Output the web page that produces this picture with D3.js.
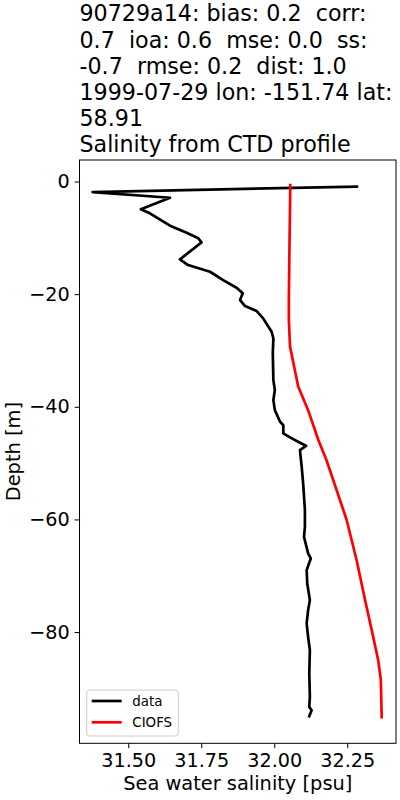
<!DOCTYPE html>
<html>
<head>
<meta charset="utf-8">
<script src="https://cdn.jsdelivr.net/npm/d3@7"></script>
<style>
  html, body { margin: 0; padding: 0; background: #fff; }
  svg { display: block; font-family: "DejaVu Sans", sans-serif; }
  text { white-space: pre; }
</style>
</head>
<body>
<svg id="chart" width="400" height="800"></svg>
<script>
// ---- data ----
const titleLines = [
  "90729a14: bias: 0.2  corr:",
  "0.7  ioa: 0.6  mse: 0.0  ss:",
  "-0.7  rmse: 0.2  dist: 1.0",
  "1999-07-29 lon: -151.74 lat:",
  "58.91",
  "Salinity from CTD profile"
];
const xLabel = "Sea water salinity [psu]";
const yLabel = "Depth [m]";
const seriesNames = ["data", "CIOFS"];
const seriesColors = ["#000000", "#ff0000"];

const dataSalinity = [32.283, 31.378, 31.643, 31.543, 31.574, 31.643, 31.700, 31.740, 31.751, 31.677,
  31.705, 31.780, 31.825, 31.871, 31.892, 31.883, 31.900, 31.940, 31.962, 31.991,
  31.997, 31.995, 31.997, 32.002, 31.997, 32.002, 32.020, 32.031, 32.031, 32.054,
  32.088, 32.109, 32.088, 32.094, 32.099, 32.105, 32.105, 32.102, 32.116, 32.125,
  32.111, 32.113, 32.122, 32.116, 32.111, 32.116, 32.122, 32.120, 32.122, 32.120,
  32.128, 32.120];
const dataDepth = [-0.89, -1.87, -2.88, -4.94, -5.65, -7.85, -9.09, -10.09, -10.80, -13.82,
  -14.83, -16.02, -17.50, -18.86, -19.86, -21.05, -22.11, -23.0, -24.30, -26.68,
  -27.85, -30.51, -35.26, -37.03, -38.81, -40.59, -42.66, -43.25, -44.72, -45.44,
  -46.39, -46.93, -47.69, -50.66, -53.61, -58.35, -61.31, -63.09, -66.04, -66.93,
  -69.0, -71.37, -74.33, -76.11, -78.47, -80.85, -83.21, -87.35, -91.51, -93.29,
  -93.87, -94.94];

const modelSalinity = [32.055, 32.052, 32.050, 32.050, 32.054, 32.082, 32.116, 32.151, 32.179, 32.202,
  32.248, 32.282, 32.311, 32.334, 32.356, 32.365, 32.368];
const modelDepth = [-0.62, -12.2, -21.0, -24.6, -29.3, -36.4, -40.6, -45.9, -49.5, -53.0,
  -60.1, -67.2, -74.3, -79.7, -85.0, -88.5, -95.1];

const xTicks = [31.50, 31.75, 32.00, 32.25];
const yTicks = [0, -20, -40, -60, -80];
const xDomain = [31.333, 32.417];
const yDomain = [-99.75, 3.82];

// ---- layout ----
const svg = d3.select("#chart");
const L = 79.5, R = 396, T = 160, B = 743.3;

const x = d3.scaleLinear().domain(xDomain).range([L, R]);
const y = d3.scaleLinear().domain(yDomain).range([B, T]);

const fmtX = d => d.toFixed(2);
const fmtY = d => (d < 0 ? "\u2212" + Math.abs(d) : String(d));

// axes
const xAxis = d3.axisBottom(x).tickValues(xTicks).tickFormat(fmtX).tickSizeInner(4.9).tickSizeOuter(0).tickPadding(4.9);
const yAxis = d3.axisLeft(y).tickValues(yTicks).tickFormat(fmtY).tickSizeInner(4.9).tickSizeOuter(0).tickPadding(4.9);

const gx = svg.append("g").attr("transform", `translate(0,${B})`).call(xAxis);
const gy = svg.append("g").attr("transform", `translate(${L},0)`).call(yAxis);
[gx, gy].forEach(g => {
  g.select(".domain").remove();
  g.selectAll(".tick line").attr("stroke", "#000").attr("stroke-width", 1);
  g.selectAll(".tick text").attr("fill", "#000").attr("font-size", 19.2).attr("font-family", "DejaVu Sans");
});

// lines
svg.append("clipPath").attr("id", "clip").append("rect")
  .attr("x", L).attr("y", T).attr("width", R - L).attr("height", B - T);

const lineGen = d3.line().x(d => x(d[0])).y(d => y(d[1]));
const dataPts = dataSalinity.map((s, i) => [s, dataDepth[i]]);
const modelPts = modelSalinity.map((s, i) => [s, modelDepth[i]]);

const plot = svg.append("g").attr("clip-path", "url(#clip)");
plot.append("path").datum(dataPts).attr("d", lineGen)
  .attr("fill", "none").attr("stroke", seriesColors[0]).attr("stroke-width", 2.7)
  .attr("stroke-linejoin", "round").attr("stroke-linecap", "square");
plot.append("path").datum(modelPts).attr("d", lineGen)
  .attr("fill", "none").attr("stroke", seriesColors[1]).attr("stroke-width", 2.7)
  .attr("stroke-linejoin", "round").attr("stroke-linecap", "square");

// frame
svg.append("rect").attr("x", L).attr("y", T).attr("width", R - L).attr("height", B - T)
  .attr("fill", "none").attr("stroke", "#000").attr("stroke-width", 1);

// title
const titleG = svg.append("g");
const lastBase = 152.3, lineH = 26.2;
titleLines.forEach((t, i) => {
  titleG.append("text")
    .attr("x", L)
    .attr("y", lastBase - (titleLines.length - 1 - i) * lineH)
    .attr("font-size", 22.2)
    .attr("fill", "#000")
    .attr("xml:space", "preserve")
    .text(t);
});

// axis labels
svg.append("text").attr("x", (L + R) / 2).attr("y", 790)
  .attr("text-anchor", "middle").attr("font-size", 19.4).attr("fill", "#000").text(xLabel);
svg.append("text").attr("transform", `translate(20,${(T + B) / 2}) rotate(-90)`)
  .attr("text-anchor", "middle").attr("font-size", 19.4).attr("fill", "#000").text(yLabel);

// legend
const lg = svg.append("g");
lg.append("rect").attr("x", 86.7).attr("y", 690).attr("width", 91.6).attr("height", 46)
  .attr("rx", 3).attr("fill", "#fff").attr("fill-opacity", 0.8)
  .attr("stroke", "#cccccc").attr("stroke-width", 1);
seriesNames.forEach((n, i) => {
  const yy = 701 + i * 21.3;
  lg.append("line").attr("x1", 91.7).attr("x2", 121.7).attr("y1", yy).attr("y2", yy)
    .attr("stroke", seriesColors[i]).attr("stroke-width", 2.7);
  lg.append("text").attr("x", 132.3).attr("y", yy + 4.8).attr("font-size", 13.4)
    .attr("fill", "#000").text(n);
});
</script>
</body>
</html>
